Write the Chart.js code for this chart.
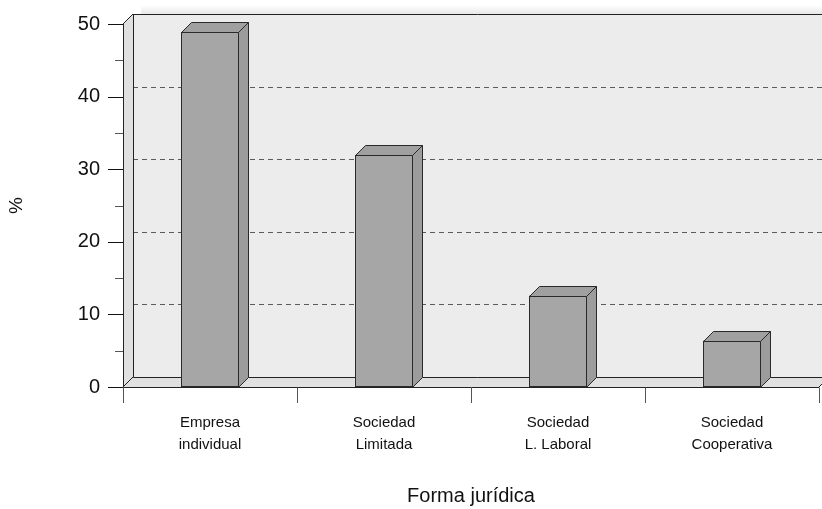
<!DOCTYPE html>
<html>
<head>
<meta charset="utf-8">
<script src="https://cdn.jsdelivr.net/npm/chart.js@4/dist/chart.umd.min.js"></script>
<style>
  html, body { margin: 0; padding: 0; background: #ffffff; }
  canvas { display: block; }
</style>
</head>
<body>
<canvas id="chart" width="822" height="509"></canvas>
<script>
// Legal form of the businesses (percentage of total)
const categories = [
  ['Empresa', 'individual'],
  ['Sociedad', 'Limitada'],
  ['Sociedad', 'L. Laboral'],
  ['Sociedad', 'Cooperativa']
];
const percentages = [48.9, 32.0, 12.6, 6.4];
const yTicks = [0, 10, 20, 30, 40, 50];
const yMinorTicks = [5, 15, 25, 35, 45];

const DEPTH = 10;          // 3D offset of the back wall / bar sides
const FONT = 'Liberation Sans, Arial, sans-serif';

const crisp = v => Math.round(v) + 0.5;

// Back wall, side wall, floor, gridlines and axis ticks
const walls3d = {
  id: 'walls3d',
  beforeDatasetsDraw(chart) {
    const { ctx, chartArea: a, scales: { x, y } } = chart;
    const W = chart.width;
    const L = a.left, R = a.right;
    const T = y.getPixelForValue(50), B = y.getPixelForValue(0);
    ctx.save();

    // soft shadow above the back wall
    const g = ctx.createLinearGradient(0, T - DEPTH - 9, 0, T - DEPTH);
    g.addColorStop(0, 'rgba(0,0,0,0)');
    g.addColorStop(1, 'rgba(0,0,0,0.09)');
    ctx.fillStyle = g;
    ctx.fillRect(L + DEPTH + 8, T - DEPTH - 9, W, 9);

    // back wall
    ctx.fillStyle = '#ececec';
    ctx.fillRect(L + DEPTH, T - DEPTH, R + DEPTH - (L + DEPTH), B - T);

    // dashed gridlines on the back wall
    ctx.strokeStyle = '#5a5a5a';
    ctx.lineWidth = 1;
    ctx.setLineDash([5, 4]);
    yTicks.filter(v => v > 0 && v < 50).forEach(v => {
      const yy = crisp(y.getPixelForValue(v) - DEPTH);
      ctx.beginPath();
      ctx.moveTo(L + DEPTH, yy);
      ctx.lineTo(W, yy);
      ctx.stroke();
    });
    ctx.setLineDash([]);

    // top edge of back wall
    ctx.strokeStyle = '#222';
    ctx.beginPath();
    ctx.moveTo(L + DEPTH, crisp(T - DEPTH));
    ctx.lineTo(W, crisp(T - DEPTH));
    ctx.stroke();

    // left side wall
    ctx.fillStyle = '#e0e0e0';
    ctx.beginPath();
    ctx.moveTo(L, T);
    ctx.lineTo(L + DEPTH, T - DEPTH);
    ctx.lineTo(L + DEPTH, B - DEPTH);
    ctx.lineTo(L, B);
    ctx.closePath();
    ctx.fill();

    // floor
    ctx.beginPath();
    ctx.moveTo(L, B);
    ctx.lineTo(L + DEPTH, B - DEPTH);
    ctx.lineTo(R + DEPTH, B - DEPTH);
    ctx.lineTo(R, B);
    ctx.closePath();
    ctx.fill();

    // wall and floor edges
    ctx.strokeStyle = '#222';
    ctx.beginPath();
    ctx.moveTo(crisp(L + DEPTH), T - DEPTH);
    ctx.lineTo(crisp(L + DEPTH), crisp(B - DEPTH));
    ctx.lineTo(W, crisp(B - DEPTH));
    ctx.moveTo(L, T);
    ctx.lineTo(L + DEPTH, T - DEPTH);
    ctx.moveTo(L, B);
    ctx.lineTo(L + DEPTH, B - DEPTH);
    ctx.moveTo(R, B);
    ctx.lineTo(R + DEPTH, B - DEPTH);
    ctx.stroke();

    // front floor edge and vertical axis line
    ctx.beginPath();
    ctx.moveTo(crisp(L), T);
    ctx.lineTo(crisp(L), crisp(B));
    ctx.lineTo(R, crisp(B));
    ctx.stroke();

    // y axis major / minor ticks
    ctx.strokeStyle = '#111';
    yTicks.forEach(v => {
      const yy = crisp(y.getPixelForValue(v));
      ctx.beginPath();
      ctx.moveTo(L - 15, yy);
      ctx.lineTo(L, yy);
      ctx.stroke();
    });
    ctx.strokeStyle = '#555';
    yMinorTicks.forEach(v => {
      const yy = crisp(y.getPixelForValue(v));
      ctx.beginPath();
      ctx.moveTo(L - 8, yy);
      ctx.lineTo(L, yy);
      ctx.stroke();
    });

    // x axis category separators
    ctx.strokeStyle = '#555';
    const step = (R - L) / categories.length;
    for (let i = 0; i <= categories.length; i++) {
      const xx = crisp(L + i * step);
      ctx.beginPath();
      ctx.moveTo(xx, crisp(B));
      ctx.lineTo(xx, B + 16);
      ctx.stroke();
    }
    ctx.restore();
  },
  afterDatasetsDraw(chart) {
    const { ctx } = chart;
    const meta = chart.getDatasetMeta(0);
    ctx.save();
    ctx.strokeStyle = '#2a2a2a';
    ctx.lineWidth = 1;
    meta.data.forEach(bar => {
      const { x, y, base, width } = bar.getProps(['x', 'y', 'base', 'width'], true);
      const l = Math.round(x - width / 2) + 0.5;
      const r = Math.round(x + width / 2) - 0.5;
      const t = Math.round(y) + 0.5;
      const b = Math.round(base) + 0.5;
      // side face
      ctx.fillStyle = '#9c9c9c';
      ctx.beginPath();
      ctx.moveTo(r, t);
      ctx.lineTo(r + DEPTH, t - DEPTH);
      ctx.lineTo(r + DEPTH, b - DEPTH);
      ctx.lineTo(r, b);
      ctx.closePath();
      ctx.fill();
      ctx.stroke();
      // top face
      ctx.fillStyle = '#a0a0a0';
      ctx.beginPath();
      ctx.moveTo(l, t);
      ctx.lineTo(l + DEPTH, t - DEPTH);
      ctx.lineTo(r + DEPTH, t - DEPTH);
      ctx.lineTo(r, t);
      ctx.closePath();
      ctx.fill();
      ctx.stroke();
    });
    ctx.restore();
  }
};

new Chart(document.getElementById('chart'), {
  type: 'bar',
  data: {
    labels: categories,
    datasets: [{
      data: percentages,
      backgroundColor: '#a6a6a6',
      borderColor: '#2a2a2a',
      borderWidth: 1,
      borderSkipped: false,
      categoryPercentage: 1,
      barPercentage: 1 / 3
    }]
  },
  options: {
    responsive: false,
    devicePixelRatio: 1,
    animation: false,
    layout: { padding: { top: 24, right: 3, left: 0, bottom: 0 } },
    plugins: { legend: { display: false }, tooltip: { enabled: false } },
    scales: {
      x: {
        grid: { display: false, drawTicks: false },
        border: { display: false },
        ticks: {
          color: '#111',
          font: { family: FONT, size: 15, lineHeight: 1.47 },
          padding: 25,
          autoSkip: false,
          maxRotation: 0
        },
        title: {
          display: true,
          text: 'Forma jurídica',
          color: '#111',
          font: { family: FONT, size: 20 },
          padding: { top: 0, bottom: 1 }
        },
        afterFit(scale) { scale.height = 122; }
      },
      y: {
        min: 0,
        max: 50,
        grid: { display: false, drawTicks: false },
        border: { display: false },
        ticks: {
          stepSize: 10,
          color: '#111',
          font: { family: FONT, size: 20 },
          padding: 23
        },
        title: {
          display: true,
          text: '%',
          color: '#111',
          font: { family: FONT, size: 19 },
          padding: { top: 5, bottom: 0 }
        },
        afterFit(scale) {
          scale.width = 123;
          scale.paddingTop = 0;
          scale.paddingBottom = 0;
        }
      }
    }
  },
  plugins: [walls3d]
});
</script>
</body>
</html>
